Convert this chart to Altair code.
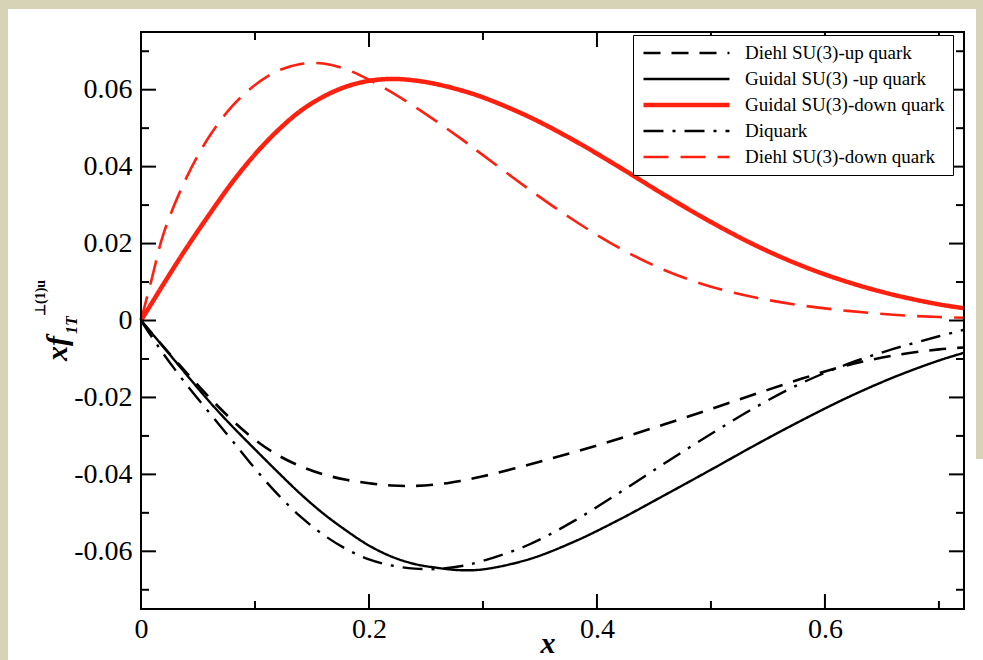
import altair as alt
import pandas as pd

# ---------------- data ----------------
X = [0, 0.01, 0.02, 0.04, 0.06, 0.08, 0.10, 0.12, 0.14, 0.16, 0.18, 0.20, 0.22, 0.24,
     0.26, 0.28, 0.30, 0.34, 0.38, 0.42, 0.46, 0.50, 0.54, 0.58, 0.62, 0.66, 0.70, 0.722]

DIEHL_UP = [0, -0.0035, -0.0069, -0.0136, -0.0200, -0.0259, -0.0310, -0.0350, -0.0379,
            -0.0400, -0.0414, -0.0423, -0.0429, -0.0430, -0.0426, -0.0417, -0.0405, -0.0375,
            -0.0342, -0.0307, -0.0269, -0.0230, -0.0190, -0.0151, -0.0116, -0.0091, -0.0075, -0.0070]
GUIDAL_UP = [0, -0.0035, -0.0070, -0.0141, -0.0211, -0.0275, -0.0335, -0.0394, -0.0451,
             -0.0502, -0.0546, -0.0585, -0.0614, -0.0633, -0.0643, -0.0649, -0.0647, -0.0621,
             -0.0575, -0.0517, -0.0453, -0.0388, -0.0322, -0.0259, -0.0200, -0.0148, -0.0104, -0.0084]
GUIDAL_DOWN = [0, 0.0048, 0.0096, 0.0189, 0.0276, 0.0359, 0.0432, 0.0494, 0.0545, 0.0582,
               0.0608, 0.0623, 0.0628, 0.0624, 0.0614, 0.0599, 0.0580, 0.0530, 0.0468, 0.0398,
               0.0325, 0.0256, 0.0194, 0.0142, 0.0100, 0.0067, 0.0042, 0.0032]
DIQUARK = [0, -0.0045, -0.0088, -0.0167, -0.0240, -0.0312, -0.0385, -0.0452, -0.0510,
           -0.0557, -0.0594, -0.0621, -0.0637, -0.0645, -0.0646, -0.0639, -0.0625, -0.0583,
           -0.0521, -0.0447, -0.0370, -0.0295, -0.0224, -0.0162, -0.0113, -0.0074, -0.0041, -0.0024]
DIEHL_DOWN = [0, 0.0115, 0.0228, 0.0372, 0.0479, 0.0557, 0.0612, 0.0649, 0.0667, 0.0668,
              0.0653, 0.0626, 0.0593, 0.0556, 0.0516, 0.0474, 0.0430, 0.0342, 0.0260, 0.0188,
              0.0130, 0.0088, 0.0059, 0.0039, 0.0025, 0.0015, 0.0009, 0.0007]

SERIES = ["Diehl SU(3)-up quark", "Guidal SU(3) -up quark", "Guidal SU(3)-down quark",
          "Diquark", "Diehl SU(3)-down quark"]
COLORS = ["black", "black", "#ff2010", "black", "#ff2010"]
DASHES = [[17, 11], [1, 0], [1, 0], [20, 9, 3, 9], [25, 12]]
WIDTHS = [2.6, 2.4, 4.5, 2.4, 2.6]

X_MAJOR = [0, 0.2, 0.4, 0.6]
X_MINOR = [0.1, 0.3, 0.5, 0.7]
Y_MAJOR = [-0.06, -0.04, -0.02, 0, 0.02, 0.04, 0.06]
Y_MINOR = [-0.07, -0.05, -0.03, -0.01, 0.01, 0.03, 0.05, 0.07]

X_DOMAIN = [0, 0.722]
Y_DOMAIN = [-0.075, 0.075]

# ---------------- layout ----------------
W, H = 823, 577
PAD = {"left": 141, "top": 32, "right": 19, "bottom": 51}
FONT = "Liberation Serif"
BEIGE = "#d7d3b6"

rows = []
for name, ys_ in zip(SERIES, [DIEHL_UP, GUIDAL_UP, GUIDAL_DOWN, DIQUARK, DIEHL_DOWN]):
    for xv, yv in zip(X, ys_):
        rows.append({"x": xv, "y": yv, "series": name})
df = pd.DataFrame(rows)

xs = alt.Scale(domain=X_DOMAIN, nice=False, zero=False)
ys = alt.Scale(domain=Y_DOMAIN, nice=False, zero=False)

legend = alt.Legend(title=None, orient="none", legendX=492, legendY=3,
                    symbolType="stroke", symbolSize=7396, clipHeight=20, rowPadding=6,
                    labelFont=FONT, labelFontSize=19, labelColor="black", labelOffset=13,
                    labelLimit=0, strokeColor="black", fillColor="white", padding=8)

xaxis = alt.Axis(values=X_MAJOR, title=None, grid=False, domain=False, ticks=False,
                 labelExpr="datum.value == 0 ? '0' : format(datum.value, '.1f')",
                 labelFont=FONT, labelFontSize=28, labelColor="black", labelPadding=6,
                 labelFlush=False, zindex=3)
yaxis = alt.Axis(values=Y_MAJOR, title=None, grid=False, domain=False, ticks=False,
                 labelExpr="datum.value == 0 ? '0' : (datum.value < 0 ? '-' + format(-datum.value, '.2f') : format(datum.value, '.2f'))",
                 labelFont=FONT, labelFontSize=28, labelColor="black", labelPadding=9,
                 zindex=3)

one = pd.DataFrame({"a": [0]})

# beige strips around the white page (background itself is white)
strip_left = alt.Chart(one).mark_rect(color=BEIGE).encode(
    x=alt.value(-141), x2=alt.value(-133), y=alt.value(-32), y2=alt.value(H + 51))
strip_top = alt.Chart(one).mark_rect(color=BEIGE).encode(
    x=alt.value(-141), x2=alt.value(W + 19), y=alt.value(-32), y2=alt.value(-23))
strip_right = alt.Chart(one).mark_rect(color=BEIGE).encode(
    x=alt.value(W + 12), x2=alt.value(W + 19), y=alt.value(-32), y2=alt.value(H - 150))

lines = alt.Chart(df).mark_line(interpolate="catmull-rom").encode(
    x=alt.X("x:Q", scale=xs, axis=xaxis),
    y=alt.Y("y:Q", scale=ys, axis=yaxis),
    color=alt.Color("series:N", scale=alt.Scale(domain=SERIES, range=COLORS), legend=legend),
    strokeDash=alt.StrokeDash("series:N", scale=alt.Scale(domain=SERIES, range=DASHES), legend=legend),
    strokeWidth=alt.StrokeWidth("series:N", scale=alt.Scale(type="ordinal", domain=SERIES, range=WIDTHS),
                                legend=legend),
)


def xticks(vals, length):
    d = pd.DataFrame({"v": vals})
    b = alt.Chart(d).mark_rule(color="black", strokeWidth=2)
    return [
        b.encode(x=alt.X("v:Q", scale=xs, axis=xaxis), y=alt.value(H), y2=alt.value(H - length)),
        b.encode(x=alt.X("v:Q", scale=xs, axis=xaxis), y=alt.value(0), y2=alt.value(length)),
    ]


def yticks(vals, length):
    d = pd.DataFrame({"v": vals})
    b = alt.Chart(d).mark_rule(color="black", strokeWidth=2)
    return [
        b.encode(y=alt.Y("v:Q", scale=ys, axis=yaxis), x=alt.value(0), x2=alt.value(length)),
        b.encode(y=alt.Y("v:Q", scale=ys, axis=yaxis), x=alt.value(W), x2=alt.value(W - length)),
    ]


frame = alt.Chart(one).mark_rect(fill=None, stroke="black", strokeWidth=2).encode(
    x=alt.value(0), x2=alt.value(W), y=alt.value(0), y2=alt.value(H))

title_main = alt.Chart(pd.DataFrame({"t": ["xf"]})).mark_text(
    angle=270, align="left", baseline="alphabetic", font=FONT, fontSize=30,
    fontStyle="italic", fontWeight="bold", color="black").encode(
    text="t:N", x=alt.value(-74), y=alt.value(329))
title_sub = alt.Chart(pd.DataFrame({"t": ["1T"]})).mark_text(
    angle=270, align="left", baseline="alphabetic", font=FONT, fontSize=16,
    fontStyle="italic", fontWeight="bold", color="black").encode(
    text="t:N", x=alt.value(-64), y=alt.value(302))
title_sup = alt.Chart(pd.DataFrame({"t": ["⊥(1)u"]})).mark_text(
    angle=270, align="left", baseline="alphabetic", font=FONT, fontSize=14,
    fontWeight="bold", color="black").encode(
    text="t:N", x=alt.value(-96), y=alt.value(284))
xtitle = alt.Chart(pd.DataFrame({"t": ["x"]})).mark_text(
    align="center", baseline="bottom", font=FONT, fontSize=30,
    fontStyle="italic", fontWeight="bold", color="black").encode(
    text="t:N", x=alt.value(407), y=alt.value(627))

layers = [strip_left, strip_top, strip_right, lines] + xticks(X_MAJOR, 15) + xticks(X_MINOR, 8) + \
    yticks(Y_MAJOR, 15) + yticks(Y_MINOR, 8) + [frame, title_main, title_sub, title_sup, xtitle]

chart = alt.layer(*layers).properties(
    width=W, height=H, padding=PAD,
    autosize=alt.AutoSizeParams(type="none"),
).configure(background="white").configure_view(stroke=None)

chart.save("out.html", embed_options={"renderer": "svg", "actions": False})
